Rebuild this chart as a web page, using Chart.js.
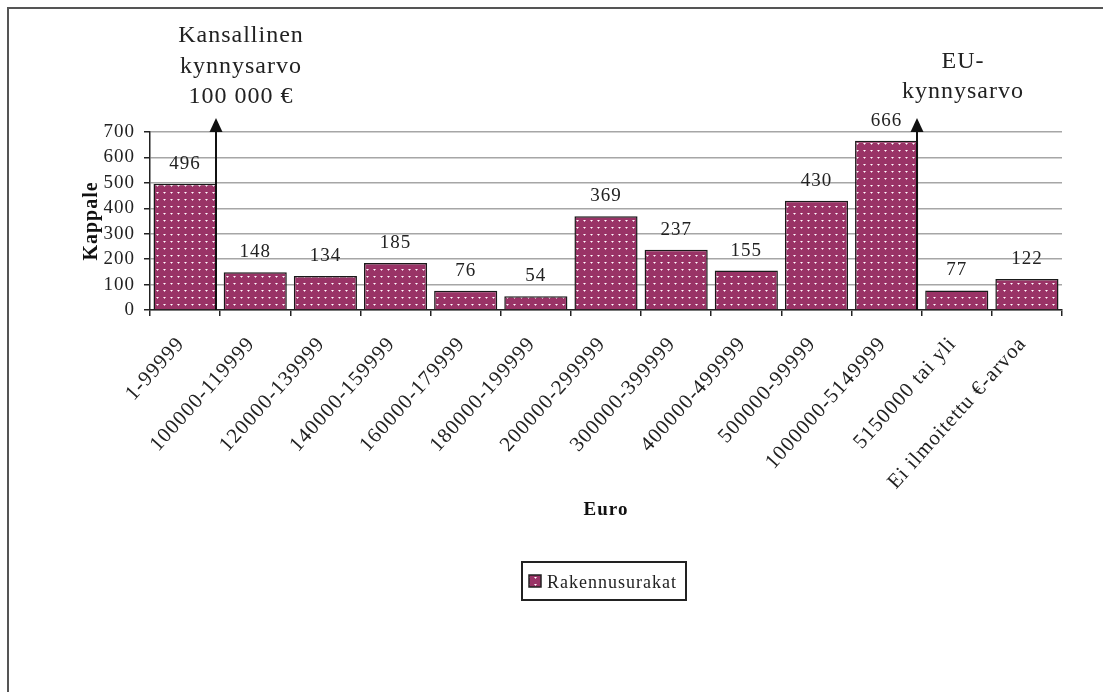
<!DOCTYPE html>
<html><head><meta charset="utf-8">
<script src="https://cdn.jsdelivr.net/npm/chart.js@4.4.1/dist/chart.umd.min.js"></script>
<style>html,body{margin:0;padding:0;background:#fff;}</style>
</head><body>
<canvas id="c" width="1103" height="692"></canvas>
<script>
const categories = ['1-99999','100000-119999','120000-139999','140000-159999','160000-179999','180000-199999','200000-299999','300000-399999','400000-499999','500000-99999','1000000-5149999','5150000 tai yli','Ei ilmoitettu €-arvoa'];
const values = [496,148,134,185,76,54,369,237,155,430,666,77,122];
const yTicks = [0,100,200,300,400,500,600,700];
const seriesName = 'Rakennusurakat';
const xTitle = 'Euro';
const yTitle = 'Kappale';
const thresholdBars = [0, 10];
const thresholdLabels = [['Kansallinen','kynnysarvo','100 000 €'], ['EU-','kynnysarvo']];

const FONT = '"Liberation Serif", "Times New Roman", serif';
Chart.defaults.font.family = FONT;
Chart.defaults.color = '#222';

function makePattern(){
  const p = document.createElement('canvas'); p.width = 7; p.height = 7;
  const g = p.getContext('2d');
  g.fillStyle = '#993366'; g.fillRect(0,0,7,7);
  g.fillStyle = '#d8a4bf'; g.fillRect(2,3,1,1); g.fillRect(4,3,1,1); g.fillRect(3,4,1,1);
  g.fillStyle = '#ffffff'; g.fillRect(3,3,1,1);
  return g.createPattern(p, 'repeat');
}
const pattern = makePattern();

const framePlugin = {
  id: 'frame',
  beforeDraw(chart){
    const ctx = chart.ctx; ctx.save();
    ctx.fillStyle = '#fff'; ctx.fillRect(0,0,chart.width,chart.height);
    ctx.strokeStyle = '#555'; ctx.lineWidth = 2;
    ctx.beginPath(); ctx.moveTo(8, chart.height); ctx.lineTo(8, 8); ctx.lineTo(chart.width, 8); ctx.stroke();
    ctx.restore();
    if ('letterSpacing' in ctx) ctx.letterSpacing = '1px';
  }
};

const labelPlugin = {
  id: 'valueLabels',
  afterDatasetsDraw(chart){
    const ctx = chart.ctx; const meta = chart.getDatasetMeta(0);
    ctx.save();
    ctx.font = '19px ' + FONT; ctx.fillStyle = '#222';
    ctx.textAlign = 'center'; ctx.textBaseline = 'middle';
    meta.data.forEach((bar,i) => ctx.fillText(String(values[i]), bar.x, bar.y - 20));
    ctx.restore();
  }
};

const thresholdPlugin = {
  id: 'thresholds',
  afterDatasetsDraw(chart){
    const ctx = chart.ctx; const meta = chart.getDatasetMeta(0);
    const ys = chart.scales.y;
    const yBase = ys.getPixelForValue(0);
    const yTop = ys.getPixelForValue(yTicks[yTicks.length-1]);
    const tip = yTop - 14;
    const textDx = [25, 46];
    const lastBaselineGap = [15, 20];
    ctx.save();
    thresholdBars.forEach((idx,k) => {
      const bar = meta.data[idx];
      const x = Math.round(bar.x + bar.width/2) - 1;
      ctx.strokeStyle = '#111'; ctx.lineWidth = 2;
      ctx.beginPath(); ctx.moveTo(x, yBase); ctx.lineTo(x, tip + 10); ctx.stroke();
      ctx.fillStyle = '#111';
      ctx.beginPath(); ctx.moveTo(x, tip); ctx.lineTo(x - 6.5, tip + 14); ctx.lineTo(x + 6.5, tip + 14); ctx.closePath(); ctx.fill();
      const lines = thresholdLabels[k];
      ctx.font = '24px ' + FONT; ctx.textAlign = 'center'; ctx.textBaseline = 'alphabetic'; ctx.fillStyle = '#222';
      const lastBase = tip - lastBaselineGap[k];
      lines.forEach((t,j) => ctx.fillText(t, x + textDx[k], lastBase - (lines.length - 1 - j) * 30.5));
    });
    ctx.restore();
  }
};

const legendPlugin = {
  id: 'boxLegend',
  afterDraw(chart){
    const ctx = chart.ctx; ctx.save();
    ctx.strokeStyle = '#222'; ctx.lineWidth = 2;
    ctx.strokeRect(522, 562, 164, 38);
    ctx.fillStyle = pattern; ctx.fillRect(529, 575, 12, 12);
    ctx.strokeStyle = '#222'; ctx.lineWidth = 1.5; ctx.strokeRect(529, 575, 12, 12);
    ctx.fillStyle = '#222'; ctx.font = '18px ' + FONT; ctx.textAlign = 'left'; ctx.textBaseline = 'alphabetic';
    ctx.fillText(seriesName, 547, 588);
    ctx.restore();
  }
};

new Chart(document.getElementById('c'), {
  type: 'bar',
  data: {
    labels: categories,
    datasets: [{
      label: seriesName,
      data: values,
      backgroundColor: pattern,
      borderColor: '#1a1a1a',
      borderWidth: 1.5,
      barPercentage: 0.9,
      categoryPercentage: 1.0
    }]
  },
  options: {
    responsive: false,
    animation: false,
    devicePixelRatio: 1,
    layout: { padding: { left: 8, right: 41, top: 132, bottom: 167 } },
    plugins: { legend: { display: false }, tooltip: { enabled: false } },
    scales: {
      x: {
        ticks: { font: { size: 21 }, color: '#222', minRotation: 48, maxRotation: 48, autoSkip: false, padding: 16, labelOffset: -4 },
        grid: { drawOnChartArea: false, color: '#222', tickLength: 6, offset: true, lineWidth: 1.5 },
        border: { color: '#222', width: 1.5 },
        title: { display: true, text: xTitle, font: { size: 19, weight: 'bold' }, color: '#111', padding: { top: 0, bottom: 4 } },
        afterFit: s => { s.height = 215; }
      },
      y: {
        min: 0, max: 700,
        afterBuildTicks: s => { s.ticks = yTicks.map(v => ({ value: v })); },
        ticks: { font: { size: 19 }, color: '#222', padding: 9, autoSkip: false, stepSize: 100 },
        grid: { color: '#a6a6a6', lineWidth: 1.5, tickColor: '#222', tickLength: 6 },
        border: { color: '#222', width: 1.5 },
        title: { display: true, text: yTitle, font: { size: 20, weight: 'bold' }, color: '#111', padding: { top: 72, bottom: 0 } },
        afterFit: s => { s.width = 142; }
      }
    }
  },
  plugins: [framePlugin, labelPlugin, thresholdPlugin, legendPlugin]
});
</script>
</body></html>
